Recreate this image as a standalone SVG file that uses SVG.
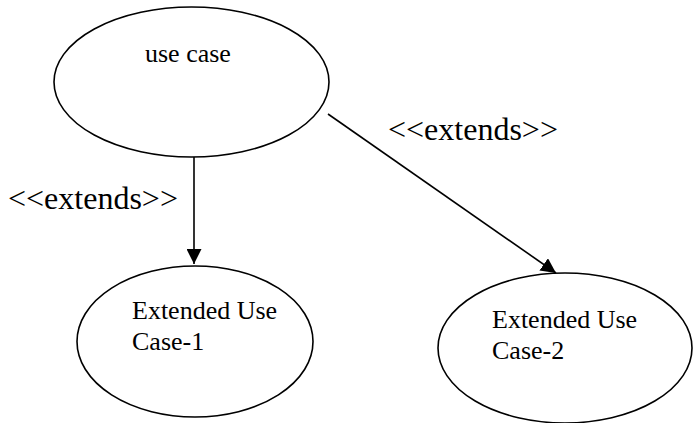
<svg xmlns="http://www.w3.org/2000/svg" width="693" height="423" viewBox="0 0 693 423">
<style>
.node ellipse{fill:#fff;stroke:#000;stroke-width:1.6}
.t{font-family:"Liberation Serif","Times New Roman",serif;font-size:26px;fill:#000}
.lbl{font-family:"Liberation Serif","Times New Roman",serif;font-size:32px;fill:#000}
.edge{stroke:#000;stroke-width:1.6;fill:none}
</style>
<defs>
<marker id="arr" markerWidth="15" markerHeight="15" refX="15" refY="7.5" orient="auto" markerUnits="userSpaceOnUse">
<path d="M0,0 L15,7.5 L0,15 Z" fill="#000"/>
</marker>
</defs>
<rect width="693" height="423" fill="#fff"/>
<g id="uc">
<g class="node"><ellipse cx="191.5" cy="82" rx="137.5" ry="75"/></g>
<text class="t" x="145" y="62">use case</text>
</g>
<g id="ext1">
<g class="node"><ellipse cx="195" cy="341.5" rx="118" ry="75.5"/></g>
<text class="t" x="132" y="319">Extended Use</text>
<text class="t" x="132" y="350">Case-1</text>
</g>
<g id="ext2">
<g class="node"><ellipse cx="565" cy="348" rx="127" ry="75"/></g>
<text class="t" x="492" y="328">Extended Use</text>
<text class="t" x="492" y="359">Case-2</text>
</g>
<g id="connectors">
<line class="edge" x1="194" y1="157" x2="194" y2="264" marker-end="url(#arr)"/>
<line class="edge" x1="328" y1="114" x2="556" y2="273" marker-end="url(#arr)"/>
<text class="lbl" x="8" y="209">&lt;&lt;extends&gt;&gt;</text>
<text class="lbl" x="388" y="140">&lt;&lt;extends&gt;&gt;</text>
</g>
</svg>
